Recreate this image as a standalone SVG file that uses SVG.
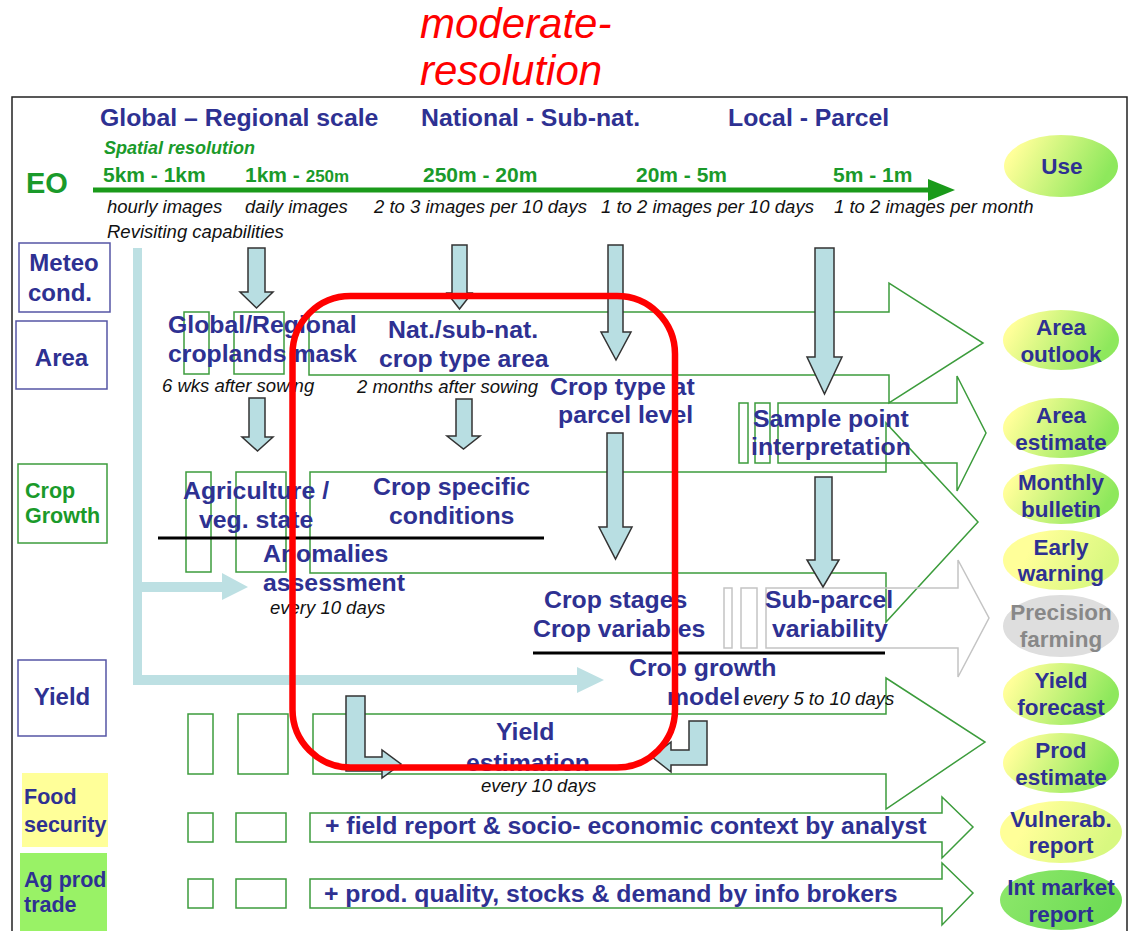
<svg xmlns="http://www.w3.org/2000/svg" width="1130" height="931" viewBox="0 0 1130 931">
<defs>
<linearGradient id="yg" x1="0" y1="0" x2="1" y2="0.3"><stop offset="0.15" stop-color="#FFFF99"/><stop offset="1" stop-color="#8EE85C"/></linearGradient>
<linearGradient id="yy" x1="0" y1="0" x2="1" y2="0.3"><stop offset="0.3" stop-color="#FFFF99"/><stop offset="1" stop-color="#D8F880"/></linearGradient>
<linearGradient id="gg" x1="0" y1="0" x2="1" y2="0.3"><stop offset="0" stop-color="#8FE86C"/><stop offset="1" stop-color="#6EDC55"/></linearGradient>
<style>
text{font-family:"Liberation Sans",Arial,sans-serif}
.nv{fill:#2E3192;font-weight:bold;font-size:24.8px}
.lb{fill:#2E3192;font-weight:bold;font-size:24px}
.sm{fill:#2E3192;font-weight:bold;font-size:21.5px}
.el{fill:#2E3192;font-weight:bold;font-size:22.5px;text-anchor:middle}
.elg{fill:#888888;font-weight:bold;font-size:22.5px;text-anchor:middle}
.it{fill:#111;font-style:italic;font-size:18.5px}
.gr{fill:#1A9A2A;font-weight:bold}
.flow{fill:none;stroke:#3C9C3C;stroke-width:1.5}
.gflow{fill:none;stroke:#C4C4C4;stroke-width:1.5}
.blk{fill:#B8DEE2;stroke:#333;stroke-width:1.5}
.box{fill:#fff;stroke:#5555A5;stroke-width:1.5}
.sep{stroke:#000;stroke-width:3}
</style>
</defs>
<rect width="1130" height="931" fill="#fff"/>
<path d="M12,931 V97 H1127 V931" fill="none" stroke="#222" stroke-width="1.5"/>

<g id="title">
<text x="420" y="38" fill="#FF0000" font-style="italic" font-size="42">moderate-</text>
<text x="420" y="85" fill="#FF0000" font-style="italic" font-size="42">resolution</text>
</g>

<g id="header">
<text class="nv" x="100" y="126">Global – Regional scale</text>
<text class="nv" x="421" y="126">National - Sub-nat.</text>
<text class="nv" x="728" y="126">Local - Parcel</text>
<text class="gr" x="104" y="154" font-style="italic" font-size="18">Spatial resolution</text>
<text class="gr" x="26" y="193" font-size="29">EO</text>
<text class="gr" x="103" y="182" font-size="21">5km - 1km</text>
<text class="gr" x="245" y="182" font-size="21">1km - <tspan font-size="17">250m</tspan></text>
<text class="gr" x="423" y="182" font-size="21">250m - 20m</text>
<text class="gr" x="636" y="182" font-size="21">20m - 5m</text>
<text class="gr" x="833" y="182" font-size="21">5m - 1m</text>
<line x1="93" y1="190" x2="930" y2="190" stroke="#1A9A1A" stroke-width="5"/>
<polygon points="928,179 955,190 928,201" fill="#1A9A1A"/>
<text class="it" x="107" y="213">hourly images</text>
<text class="it" x="245" y="213">daily images</text>
<text class="it" x="374" y="213">2 to 3 images per 10 days</text>
<text class="it" x="601" y="213">1 to 2 images per 10 days</text>
<text class="it" x="834" y="213">1 to 2 images per month</text>
<text class="it" x="107" y="238">Revisiting capabilities</text>
</g>

<g id="row-labels">
<g id="meteo"><rect class="box" x="19" y="243" width="91" height="69"/><text class="lb" x="64" y="271" text-anchor="middle">Meteo</text><text class="lb" x="28" y="301">cond.</text></g>
<g id="area"><rect class="box" x="16" y="321" width="91" height="68"/><text class="lb" x="61.5" y="366" text-anchor="middle">Area</text></g>
<g id="cropgrowth"><rect x="18" y="464" width="89" height="79" fill="#fff" stroke="#3C9C3C" stroke-width="1.5"/><text class="gr" x="25" y="498" font-size="21.5">Crop</text><text class="gr" x="25" y="523" font-size="21.5">Growth</text></g>
<g id="yield"><rect class="box" x="18" y="660" width="88" height="76"/><text class="lb" x="62" y="705" text-anchor="middle">Yield</text></g>
<g id="food"><rect x="22" y="773" width="86" height="74" fill="#FFFF99"/><text class="sm" x="24" y="804">Food</text><text class="sm" x="24" y="832">security</text></g>
<g id="trade"><rect x="20" y="853" width="87" height="78" fill="#99F266"/><text class="sm" x="24" y="887">Ag prod</text><text class="sm" x="24" y="912">trade</text></g>
</g>

<g id="flows">
<path class="flow" d="M309,312 H889 V283 L983,343 L889,403 V375 H309 Z"/>
<rect class="flow" x="184" y="312" width="25" height="62"/>
<rect class="flow" x="234" y="312" width="50" height="62"/>
<path class="flow" d="M778,403 H957 V376 L986,433 L957,491 V463 H778 Z"/>
<rect class="flow" x="739" y="403" width="9" height="60"/>
<rect class="flow" x="755" y="403" width="15" height="60"/>
<path class="flow" d="M310,472 H886 V423 L978,522 L886,622 V573 H310 Z"/>
<rect class="flow" x="186" y="472" width="25" height="100"/>
<rect class="flow" x="236" y="472" width="50" height="100"/>
<path class="gflow" d="M766,588 H958 V560 L989,618 L958,677 V648 H766 Z"/>
<rect class="gflow" x="724" y="588" width="8" height="60"/>
<rect class="gflow" x="741" y="588" width="16" height="60"/>
<path class="flow" d="M313,714 H886 V678 L985,742 L886,809 V774 H313 Z"/>
<rect class="flow" x="188" y="714" width="25" height="60"/>
<rect class="flow" x="238" y="714" width="50" height="60"/>
<path class="flow" d="M310,813 H942 V797 L973,827 L942,858 V842 H310 Z"/>
<rect class="flow" x="188" y="813" width="25" height="29"/>
<rect class="flow" x="236" y="813" width="50" height="29"/>
<path class="flow" d="M310,879 H942 V863 L973,893 L942,925 V908 H310 Z"/>
<rect class="flow" x="188" y="879" width="25" height="29"/>
<rect class="flow" x="236" y="879" width="50" height="29"/>
<line class="sep" x1="158" y1="538" x2="544" y2="538"/>
<line class="sep" x1="533" y1="653" x2="885" y2="653"/>
</g>

<g id="connectors">
<path d="M133,248 H142 V582 H222 V573 L248,587 L222,600 V592 H142 V675 H577 V667 L604,680 L577,693 V685 H133 Z" fill="#BDE0E3"/>
<polygon class="blk" points="248,248 265,248 265,292 273,292 256.5,308 240,292 248,292"/>
<polygon class="blk" points="249,398 265,398 265,437 273,437 257.5,451 242,437 249,437"/>
<polygon class="blk" points="452,245 467,245 467,293 472,293 459.5,309 447,293 452,293"/>
<polygon class="blk" points="608,245 623,245 623,332 631,332 616,360 601,332 608,332"/>
<polygon class="blk" points="456,399 472,399 472,436 480,436 463.5,449 447,436 456,436"/>
<polygon class="blk" points="607,433 623,433 623,527 632,527 615.5,559 599,527 607,527"/>
<polygon class="blk" points="815,248 834,248 834,357 842,357 824.5,394 807,357 815,357"/>
<polygon class="blk" points="815,477 832,477 832,560 839,560 823,587 807,560 815,560"/>
<path class="blk" d="M346,696 H365 V757 H382 V750 L401,764 L382,778 V771 H346 Z"/>
<path class="blk" d="M707,721 V765 H671 V772 L652,757 L671,742 V750 H689 V721 Z"/>
</g>

<g id="nodes">
<g id="croplands"><text class="nv" x="168" y="333">Global/Regional</text><text class="nv" x="168" y="362">croplands mask</text><text class="it" x="162" y="392">6 wks after sowing</text></g>
<g id="croptypearea"><text class="nv" x="388" y="338">Nat./sub-nat.</text><text class="nv" x="379" y="367">crop type area</text><text class="it" x="357" y="393">2 months after sowing</text></g>
<g id="parcel"><text class="nv" x="550" y="395">Crop type at</text><text class="nv" x="558" y="423">parcel level</text></g>
<g id="sample"><text class="nv" x="753" y="427">Sample point</text><text class="nv" x="751" y="455">interpretation</text></g>
<g id="agri"><text class="nv" x="183" y="499">Agriculture /</text><text class="nv" x="199" y="528">veg. state</text></g>
<g id="cropspec"><text class="nv" x="373" y="495">Crop specific</text><text class="nv" x="389" y="524">conditions</text></g>
<g id="anom"><text class="nv" x="263" y="562">Anomalies</text><text class="nv" x="263" y="591">assessment</text><text class="it" x="270" y="614">every 10 days</text></g>
<g id="stages"><text class="nv" x="544" y="608">Crop stages</text><text class="nv" x="533" y="637">Crop variables</text></g>
<g id="subparcel"><text class="nv" x="765" y="608">Sub-parcel</text><text class="nv" x="772" y="637">variability</text></g>
<g id="model"><text class="nv" x="629" y="676">Crop growth</text><text class="nv" x="667" y="705">model</text><text class="it" x="743" y="705">every 5 to 10 days</text></g>
<g id="yieldest"><text class="nv" x="496" y="740">Yield</text><text class="nv" x="466" y="771">estimation</text><text class="it" x="481" y="792">every 10 days</text></g>
<g id="fieldreport"><text class="nv" x="325" y="834">+ field report &amp; socio- economic context by analyst</text></g>
<g id="brokers"><text class="nv" x="324" y="902">+ prod. quality, stocks &amp; demand by info brokers</text></g>
</g>

<g id="uses">
<g id="use"><ellipse cx="1061" cy="166" rx="57" ry="31" fill="url(#yg)"/><text class="el" x="1062" y="174">Use</text></g>
<g id="areaoutlook"><ellipse cx="1061" cy="340" rx="58" ry="30" fill="url(#yg)"/><text class="el" x="1061" y="335">Area</text><text class="el" x="1061" y="362">outlook</text></g>
<g id="areaestimate"><ellipse cx="1061" cy="428" rx="58" ry="30" fill="url(#yg)"/><text class="el" x="1061" y="423">Area</text><text class="el" x="1061" y="450">estimate</text></g>
<g id="monthly"><ellipse cx="1061" cy="494" rx="58" ry="30" fill="url(#yg)"/><text class="el" x="1061" y="490">Monthly</text><text class="el" x="1061" y="517">bulletin</text></g>
<g id="early"><ellipse cx="1061" cy="560" rx="58" ry="30" fill="url(#yy)"/><text class="el" x="1061" y="555">Early</text><text class="el" x="1061" y="581">warning</text></g>
<g id="precision"><ellipse cx="1061" cy="626" rx="58" ry="31" fill="#DEDEDE"/><text class="elg" x="1061" y="620">Precision</text><text class="elg" x="1061" y="647">farming</text></g>
<g id="yieldfc"><ellipse cx="1061" cy="694" rx="58" ry="31" fill="url(#yg)"/><text class="el" x="1061" y="688">Yield</text><text class="el" x="1061" y="715">forecast</text></g>
<g id="prodest"><ellipse cx="1061" cy="763" rx="58" ry="30" fill="url(#yg)"/><text class="el" x="1061" y="758">Prod</text><text class="el" x="1061" y="785">estimate</text></g>
<g id="vuln"><ellipse cx="1061" cy="832" rx="61" ry="31" fill="url(#yy)"/><text class="el" x="1061" y="827">Vulnerab.</text><text class="el" x="1061" y="853">report</text></g>
<g id="intmarket"><ellipse cx="1061" cy="900" rx="61" ry="30" fill="url(#gg)"/><text class="el" x="1061" y="895">Int market</text><text class="el" x="1061" y="922">report</text></g>
</g>

<rect id="highlight" x="292.5" y="296" width="382.5" height="471.5" rx="58" fill="none" stroke="#FF0000" stroke-width="6.5"/>
</svg>
